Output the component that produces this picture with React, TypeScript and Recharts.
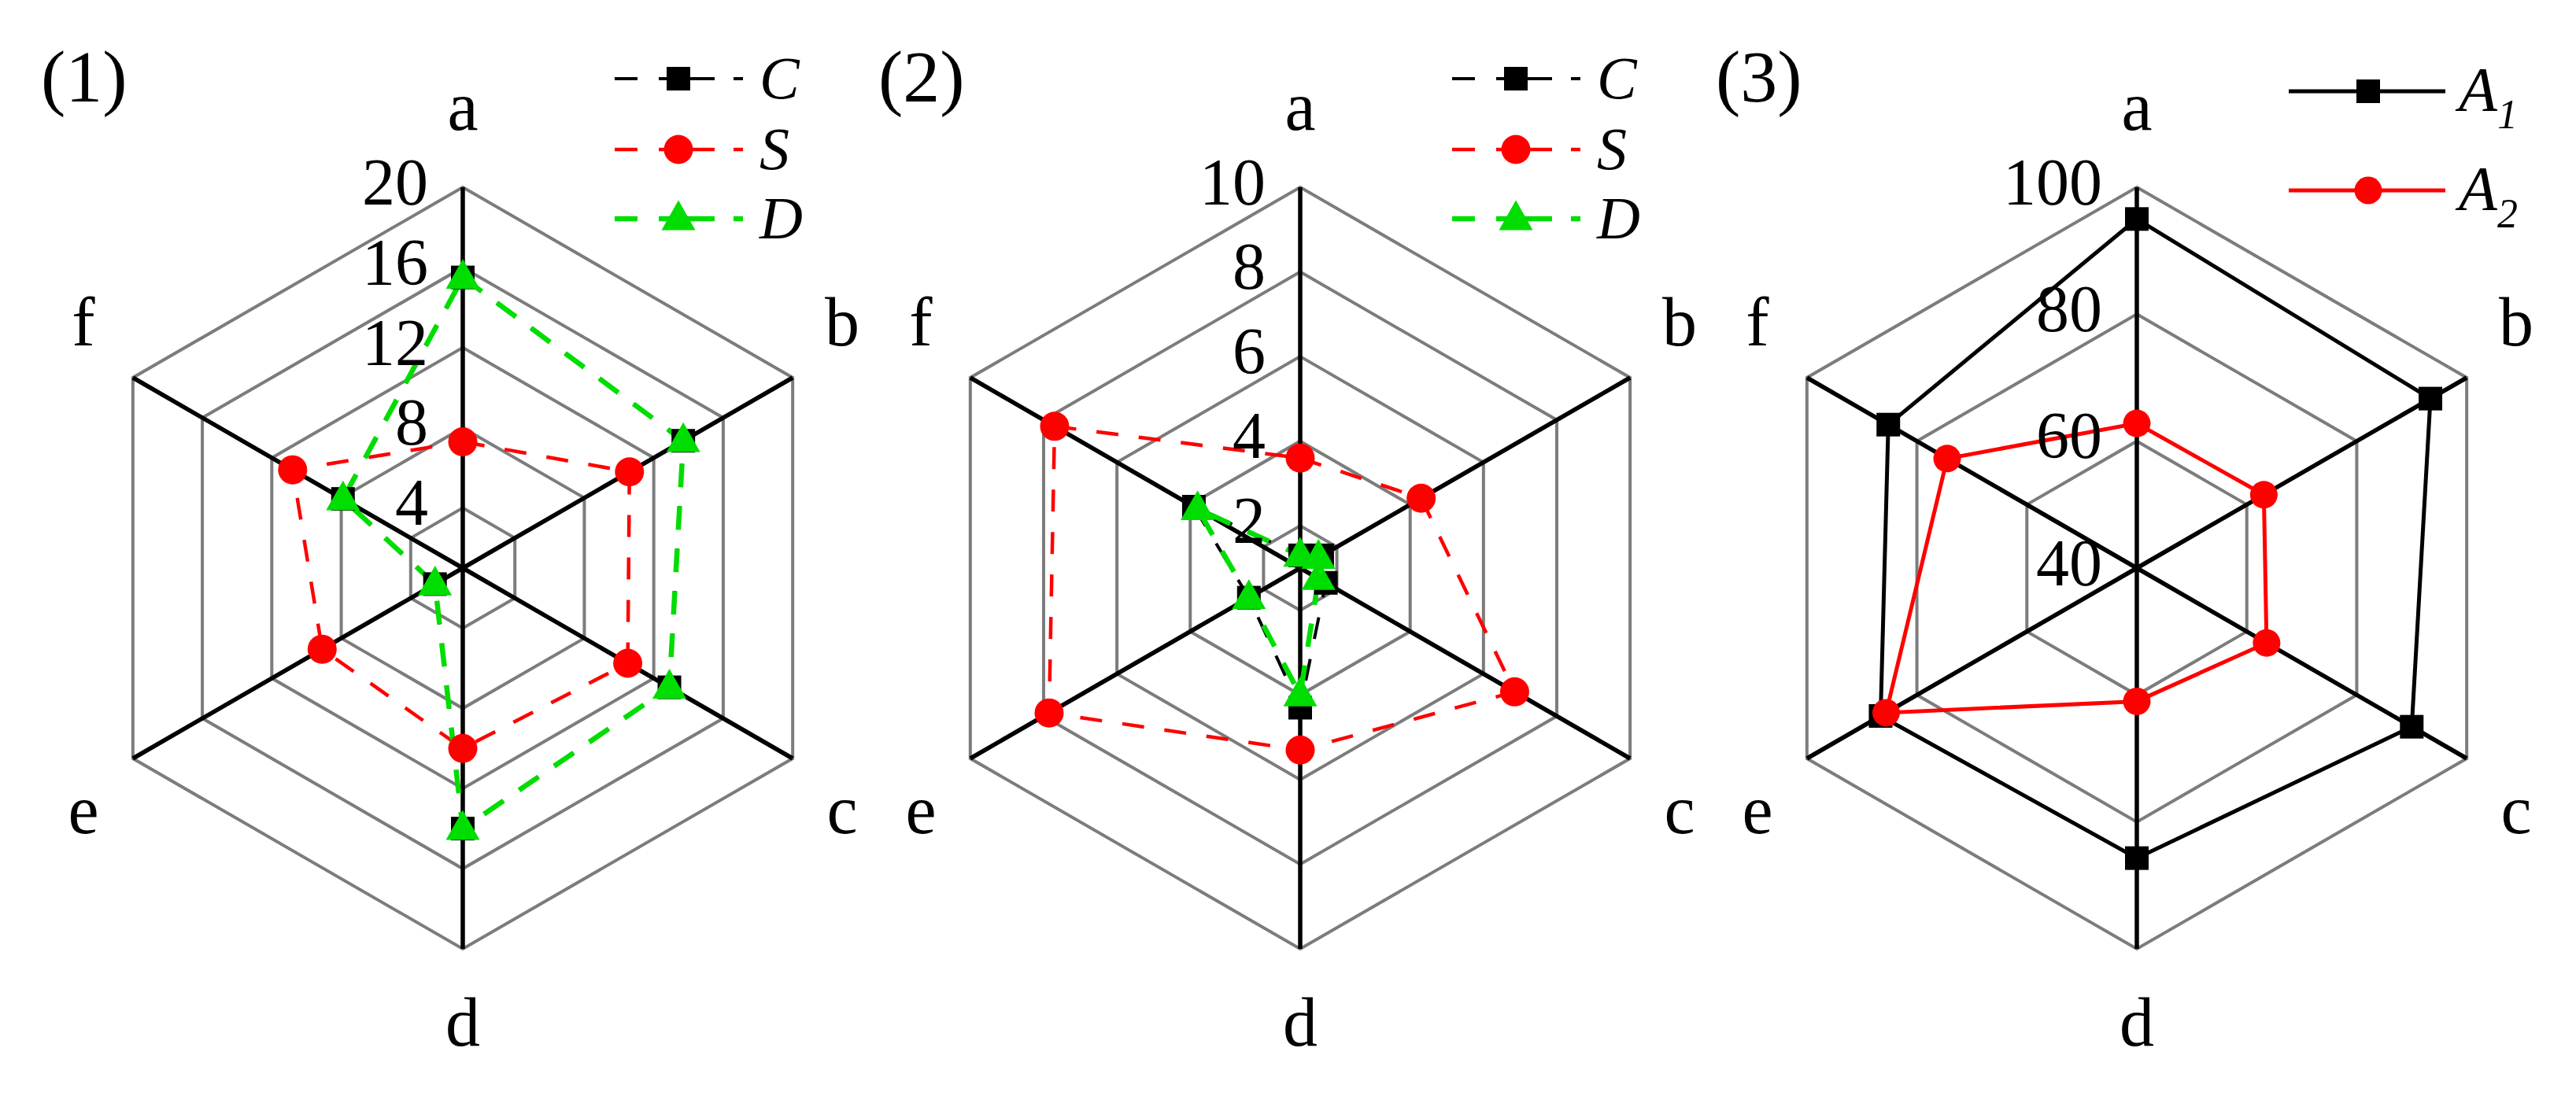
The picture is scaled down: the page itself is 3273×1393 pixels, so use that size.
import React from 'react';
import { RadarChart, Radar, PolarGrid, PolarAngleAxis, PolarRadiusAxis, Legend } from 'recharts';

const FONT = '"Liberation Serif", "Times New Roman", serif';

// ---------- data ----------
const categories = ['a', 'b', 'c', 'd', 'e', 'f'];

// panel (1)
const p1C = [15.5, 13.7, 12.9, 14.0, 2.6, 7.9];
const p1S = [7.3, 10.6, 10.5, 10.0, 9.1, 10.8];
const p1D = [15.5, 13.7, 12.9, 14.0, 2.6, 7.9];
const p1Ticks = [4, 8, 12, 16, 20];
const p1Domain = [1, 20];

// panel (2)
const p2C = [1.3, 1.6, 1.7, 4.3, 2.4, 3.9];
const p2S = [3.6, 4.3, 6.85, 5.3, 7.85, 7.7];
const p2D = [1.3, 1.5, 1.5, 4.0, 2.4, 3.8];
const p2Ticks = [2, 4, 6, 8, 10];
const p2Domain = [1, 10];

// panel (3)
const p3A1 = [95, 93.4, 90, 85.7, 86.6, 85.2];
const p3A2 = [62.8, 63.1, 63.6, 61, 85.6, 74.5];
const p3Ticks = [40, 60, 80, 100];
const p3Domain = [40, 100];

const panelTitles = ['(1)', '(2)', '(3)'];

// ---------- layout / style ----------
const CHART_W = 1146;
const CHART_H = 1393;
const CX = 588;
const CY = 722;
const R = 484;
const panelLeft = [0, 1064, 2127];
const titleLeft = [52, 1116, 2180];
const TICK_FS = 84;
const ANGLE_FS = 88;
const LEGEND_FS = 76;
const GREEN = '#00dd00';
const RED = '#ff0000';

type MarkerKind = 'square' | 'circle' | 'triangle';
type SeriesDef = {
  key: string;
  name: string;
  values: number[];
  color: string;
  width: number;
  dash?: string;
  marker: MarkerKind;
  size: number;
};

function Marker({ kind, x, y, color, size }: { kind: MarkerKind; x: number; y: number; color: string; size: number }) {
  if (kind === 'square') {
    return <rect x={x - size / 2} y={y - size / 2} width={size} height={size} fill={color} />;
  }
  if (kind === 'circle') {
    return <circle cx={x} cy={y} r={size / 2} fill={color} />;
  }
  const h = size * 0.88;
  return (
    <polygon
      points={`${x},${y - h * 0.62} ${x + size / 2},${y + h * 0.38} ${x - size / 2},${y + h * 0.38}`}
      fill={color}
    />
  );
}

const renderAngleTick = (props: any) => {
  const { x, y, payload } = props;
  const ux = x - CX;
  const uy = y - CY;
  let tx = CX;
  let ty = CY;
  if (Math.abs(ux) < 1) {
    ty = uy < 0 ? CY - 577 : CY + 577;
  } else {
    tx = ux > 0 ? CX + 482 : CX - 482;
    ty = uy < 0 ? CY - 313 : CY + 317;
  }
  const label = String(payload.value);
  const lift = /[bdf]/.test(label) ? 0.34 : 0.23;
  return (
    <text x={tx} y={ty + lift * ANGLE_FS} textAnchor="middle" fontFamily={FONT} fontSize={ANGLE_FS} fill="#000">
      {label}
    </text>
  );
};

const renderRadiusTick = (props: any) => {
  const { x, y, payload } = props;
  return (
    <text x={x - 44} y={y + 0.33 * TICK_FS - 6} textAnchor="end" fontFamily={FONT} fontSize={TICK_FS} fill="#000">
      {payload.value}
    </text>
  );
};

type LegendOpts = {
  left: number;
  top: number;
  w: number;
  h: number;
  rowY: number[];
  lineX0: number;
  lineX1: number;
  markerX: number;
  textX: number;
  dash?: string;
  subscript?: boolean;
};

const makeLegendContent = (series: SeriesDef[], o: LegendOpts) => (props: any) => {
  const payload: any[] = props.payload || [];
  return (
    <svg width={o.w} height={o.h} style={{ overflow: 'visible', display: 'block' }}>
      {series.map((s, i) => {
        const entry = payload.find((e: any) => e.dataKey === s.key);
        const y = o.rowY[i];
        const name = String(entry ? entry.value : s.name);
        const color = entry && entry.color ? entry.color : s.color;
        return (
          <g key={`lg-${i}`}>
            <line
              x1={o.lineX0}
              y1={y}
              x2={o.lineX1}
              y2={y}
              stroke={color}
              strokeWidth={s.width}
              strokeDasharray={o.dash}
            />
            <Marker kind={s.marker} x={o.markerX} y={y} color={color} size={s.size} />
            {o.subscript ? (
              <text x={o.textX} y={y + 0.33 * LEGEND_FS} fontFamily={FONT} fontStyle="italic" fontSize={80} fill="#000">
                {name.charAt(0)}
                <tspan fontSize={52} dy={22}>
                  {name.slice(1)}
                </tspan>
              </text>
            ) : (
              <text x={o.textX} y={y + 0.33 * LEGEND_FS} fontFamily={FONT} fontStyle="italic" fontSize={LEGEND_FS} fill="#000">
                {name}
              </text>
            )}
          </g>
        );
      })}
    </svg>
  );
};

function Panel({
  series,
  ticks,
  domain,
  legend,
}: {
  series: SeriesDef[];
  ticks: number[];
  domain: number[];
  legend: LegendOpts;
}) {
  const data = categories.map((cat, i) => {
    const row: any = { cat };
    series.forEach((s) => {
      row[s.key] = s.values[i];
    });
    return row;
  });
  return (
    <RadarChart
      width={CHART_W}
      height={CHART_H}
      data={data}
      cx={CX}
      cy={CY}
      outerRadius={R}
      margin={{ top: 0, right: 0, bottom: 0, left: 0 }}
    >
      <PolarGrid gridType="polygon" radialLines={false} stroke="#7c7c7c" strokeWidth={4} />
      <PolarGrid gridType="polygon" polarRadius={[]} stroke="#000" strokeWidth={5.5} />
      <PolarAngleAxis dataKey="cat" tick={renderAngleTick} axisLine={false} tickLine={false} />
      <PolarRadiusAxis
        angle={90}
        type="number"
        domain={domain as any}
        ticks={ticks}
        tick={renderRadiusTick}
        axisLine={false}
        tickLine={false}
      />
      {series.map((s) => (
        <Radar
          key={s.key}
          dataKey={s.key}
          name={s.name}
          stroke={s.color}
          strokeWidth={s.width}
          strokeDasharray={s.dash}
          fill="none"
          fillOpacity={0}
          isAnimationActive={false}
          dot={(p: any) => <Marker key={`${s.key}-${p.index}`} kind={s.marker} x={p.cx} y={p.cy} color={s.color} size={s.size} />}
          activeDot={false}
        />
      ))}
      <Legend
        layout="vertical"
        align="right"
        verticalAlign="middle"
        content={makeLegendContent(series, legend)}
        wrapperStyle={{ left: legend.left, top: legend.top, right: 'auto', bottom: 'auto', width: legend.w, height: legend.h }}
      />
    </RadarChart>
  );
}

const seriesP1: SeriesDef[] = [
  { key: 'C', name: 'C', values: p1C, color: '#000', width: 4, dash: '28 26', marker: 'square', size: 30 },
  { key: 'S', name: 'S', values: p1S, color: RED, width: 4.5, dash: '28 26', marker: 'circle', size: 37 },
  { key: 'D', name: 'D', values: p1D, color: GREEN, width: 6.5, dash: '30 24', marker: 'triangle', size: 43 },
];
const seriesP2: SeriesDef[] = [
  { key: 'C', name: 'C', values: p2C, color: '#000', width: 4, dash: '28 26', marker: 'square', size: 30 },
  { key: 'S', name: 'S', values: p2S, color: RED, width: 4.5, dash: '28 26', marker: 'circle', size: 37 },
  { key: 'D', name: 'D', values: p2D, color: GREEN, width: 6.5, dash: '30 24', marker: 'triangle', size: 43 },
];
const seriesP3: SeriesDef[] = [
  { key: 'A1', name: 'A1', values: p3A1, color: '#000', width: 5, marker: 'square', size: 30 },
  { key: 'A2', name: 'A2', values: p3A2, color: RED, width: 5, marker: 'circle', size: 35 },
];

const legendDashed: LegendOpts = {
  left: 740,
  top: 40,
  w: 330,
  h: 290,
  rowY: [60, 150, 238],
  lineX0: 41,
  lineX1: 204,
  markerX: 122,
  textX: 225,
  dash: '29 27 71 24 12 999',
};
const legendSolid: LegendOpts = {
  left: 740,
  top: 40,
  w: 345,
  h: 260,
  rowY: [76, 202],
  lineX0: 41,
  lineX1: 240,
  markerX: 142,
  textX: 257,
  subscript: true,
};

export default function App() {
  const panels = [
    { series: seriesP1, ticks: p1Ticks, domain: p1Domain, legend: legendDashed },
    { series: seriesP2, ticks: p2Ticks, domain: p2Domain, legend: legendDashed },
    { series: seriesP3, ticks: p3Ticks, domain: p3Domain, legend: legendSolid },
  ];
  return (
    <div
      style={{
        position: 'absolute',
        left: 0,
        top: 0,
        width: 3273,
        height: 1393,
        background: '#fff',
        overflow: 'hidden',
      }}
    >
      {panels.map((p, i) => (
        <React.Fragment key={i}>
          <div
            style={{
              position: 'absolute',
              left: titleLeft[i],
              top: 50,
              fontFamily: FONT,
              fontSize: 94,
              lineHeight: 1,
              color: '#000',
              whiteSpace: 'nowrap',
            }}
          >
            {panelTitles[i]}
          </div>
          <div style={{ position: 'absolute', left: panelLeft[i], top: 0, width: CHART_W, height: CHART_H }}>
            <Panel series={p.series} ticks={p.ticks} domain={p.domain} legend={p.legend} />
          </div>
        </React.Fragment>
      ))}
    </div>
  );
}
